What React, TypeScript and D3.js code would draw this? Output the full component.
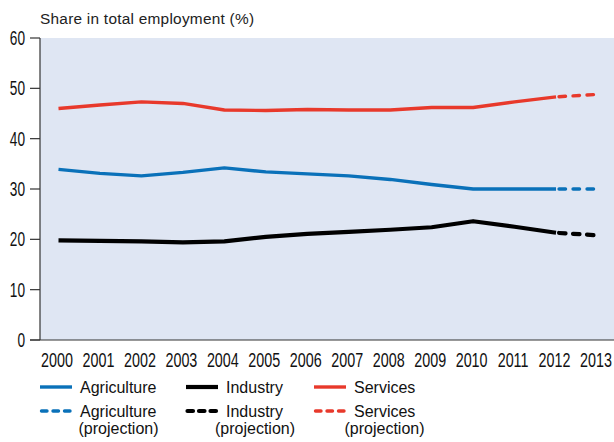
import React from "react";
import * as d3 from "d3";

const years = [2000, 2001, 2002, 2003, 2004, 2005, 2006, 2007, 2008, 2009, 2010, 2011, 2012, 2013];
const agriculture = [33.9, 33.1, 32.6, 33.3, 34.2, 33.4, 33.0, 32.6, 31.9, 30.9, 30.0, 30.0, 30.0, 30.0];
const industry = [19.8, 19.7, 19.6, 19.4, 19.6, 20.5, 21.1, 21.5, 21.9, 22.4, 23.6, 22.5, 21.3, 20.8];
const services = [46.0, 46.7, 47.3, 47.0, 45.7, 45.6, 45.8, 45.7, 45.7, 46.2, 46.2, 47.3, 48.3, 48.8];
const yTicks = [0, 10, 20, 30, 40, 50, 60];
const projectionStart = 2012;
const title = "Share in total employment (%)";

const seriesList = [
  { name: "Agriculture", values: agriculture, color: "#0a71b9", width: 3.4 },
  { name: "Industry", values: industry, color: "#000000", width: 4.2 },
  { name: "Services", values: services, color: "#e8392b", width: 3.4 },
];

const W = 614;
const H = 442;
const plotLeft = 40;
const plotTop = 38;
const plotBottom = 340;

const sans = "'Liberation Sans', Arial, sans-serif";
const condScale = 0.7;

export default function App() {
  const x = d3.scaleLinear().domain([2000, 2013]).range([58.5, 597.5]);
  const y = d3.scaleLinear().domain([0, 60]).range([plotBottom, plotTop]);
  const line = d3
    .line<[number, number]>()
    .x((d) => x(d[0]))
    .y((d) => y(d[1]));

  const legendCols = [40, 186, 314];

  return (
    <svg width={W} height={H} style={{ position: "absolute", left: 0, top: 0 }}>
      <rect x={plotLeft} y={plotTop} width={W - plotLeft} height={plotBottom - plotTop} fill="#dfe6f3" />
      <text x={40} y={24} fontFamily={sans} fontSize={15.4} letterSpacing={0.25} fill="#222">
        {title}
      </text>
      <line x1={plotLeft} x2={plotLeft} y1={plotTop} y2={plotBottom} stroke="#333" strokeWidth={1.2} />
      <line x1={30} x2={W} y1={plotBottom} y2={plotBottom} stroke="#333" strokeWidth={1.2} />
      {yTicks.map((t) => (
        <g key={t}>
          <line x1={30} x2={plotLeft} y1={y(t)} y2={y(t)} stroke="#333" strokeWidth={1.2} />
          <text
            transform={`translate(25,${y(t) + 7}) scale(${condScale},1)`}
            textAnchor="end"
            fontFamily={sans}
            fontSize={19.5}
            fill="#111"
          >
            {t}
          </text>
        </g>
      ))}
      {years.map((yr) => (
        <text
          key={yr}
          transform={`translate(${x(yr) - 1.5},366.5) scale(${condScale},1)`}
          textAnchor="middle"
          fontFamily={sans}
          fontSize={20.5}
          fill="#111"
        >
          {yr}
        </text>
      ))}
      {seriesList.map((s) => {
        const pts: [number, number][] = years.map((yr, i) => [yr, s.values[i]]);
        const solid = pts.filter((p) => p[0] <= projectionStart);
        const proj = pts.filter((p) => p[0] >= projectionStart);
        return (
          <g key={s.name}>
            <path d={line(solid) || ""} fill="none" stroke={s.color} strokeWidth={s.width} strokeLinejoin="round" />
            <path
              d={line(proj) || ""}
              fill="none"
              stroke={s.color}
              strokeWidth={s.width}
              strokeDasharray="6.5 7.5"
              strokeDashoffset={-3}
              strokeLinecap="round"
            />
          </g>
        );
      })}
      {seriesList.map((s, i) => {
        const lx = legendCols[i];
        const textX = lx + 40;
        return (
          <g key={s.name}>
            <line x1={lx} x2={lx + 32} y1={387} y2={387} stroke={s.color} strokeWidth={s.width} />
            <text x={textX} y={393} fontFamily={sans} fontSize={16} fill="#111">
              {s.name}
            </text>
            <line
              x1={lx + 1.5}
              x2={lx + 31}
              y1={411}
              y2={411}
              stroke={s.color}
              strokeWidth={s.width}
              strokeDasharray="5.5 6"
              strokeLinecap="round"
            />
            <text x={textX} y={417} fontFamily={sans} fontSize={16} fill="#111">
              {s.name}
            </text>
          </g>
        );
      })}
      {seriesList.map((s, i) => {
        const lx = legendCols[i];
        const nameW = s.name === "Agriculture" ? 77 : s.name === "Industry" ? 58 : 61;
        const cx = lx + 40 + nameW / 2;
        return (
          <text key={s.name + "p"} x={cx} y={434} textAnchor="middle" fontFamily={sans} fontSize={16} fill="#111">
            (projection)
          </text>
        );
      })}
    </svg>
  );
}
